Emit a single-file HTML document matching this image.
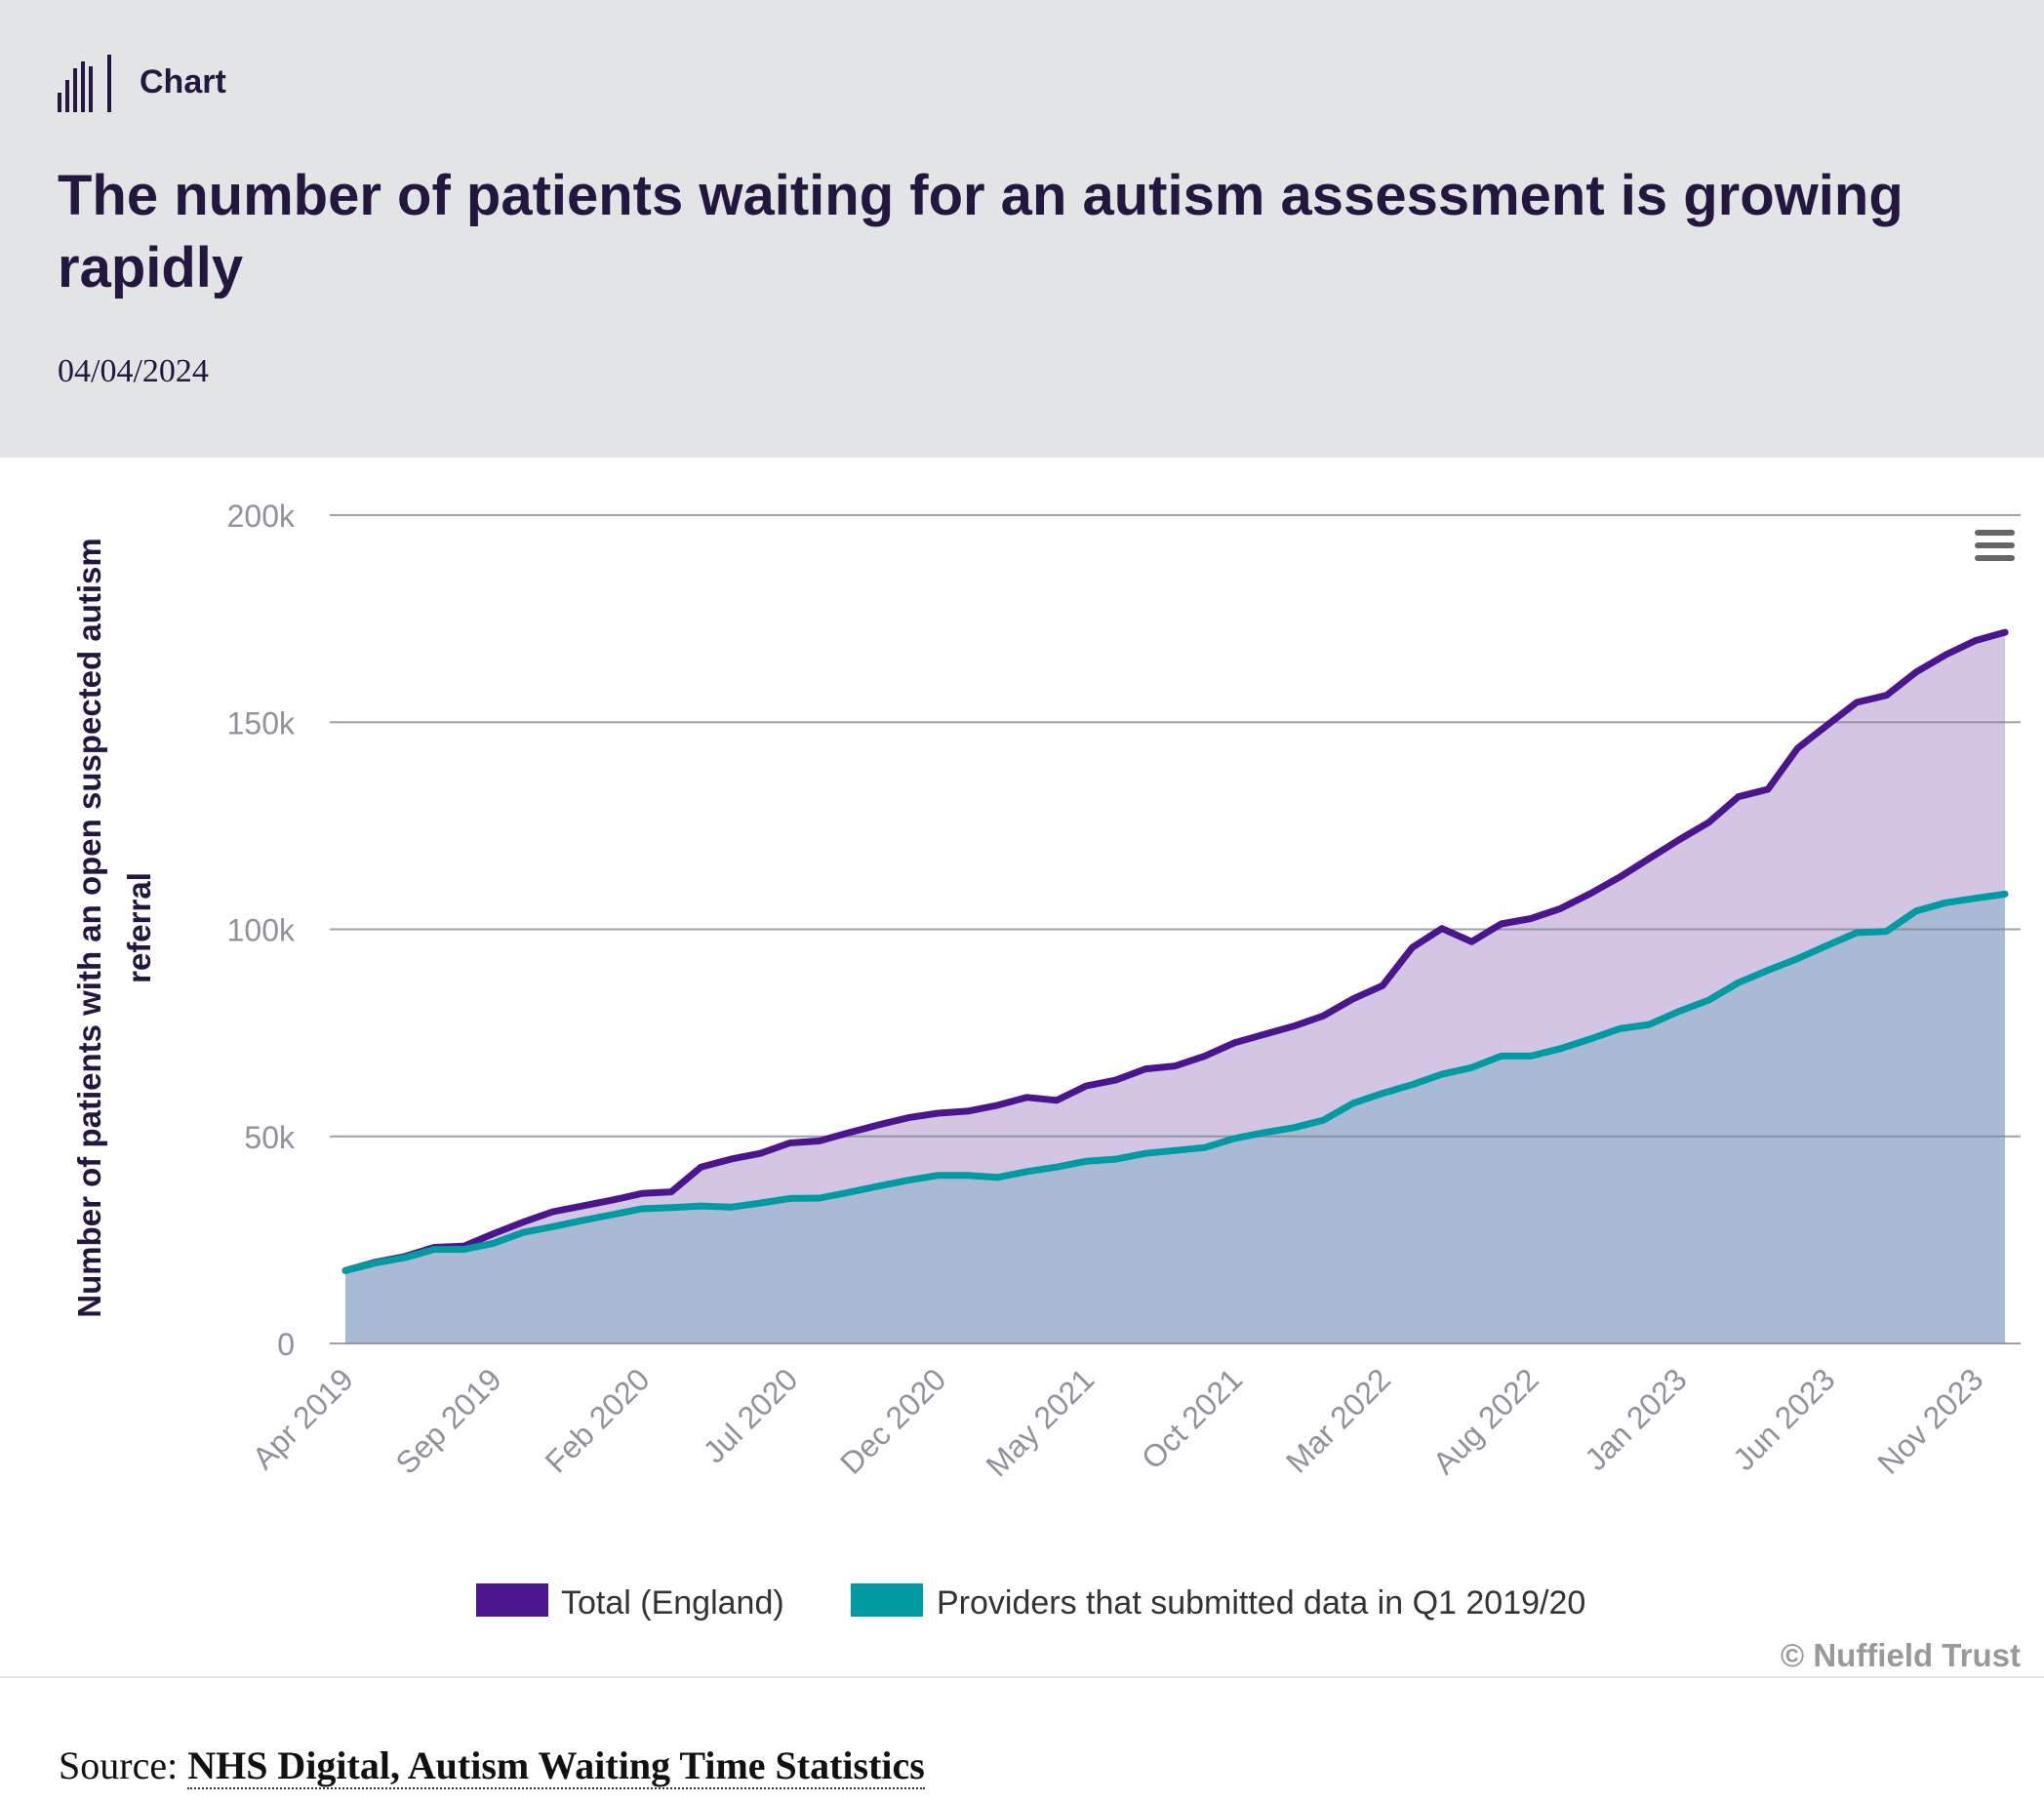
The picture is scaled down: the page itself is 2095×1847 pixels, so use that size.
<!DOCTYPE html>
<html><head><meta charset="utf-8">
<style>
html,body{margin:0;padding:0;width:2095px;height:1847px;background:#fff;overflow:hidden;font-family:"Liberation Sans",sans-serif}
#header{position:absolute;left:0;top:0;width:2095px;height:469px;background:#e3e4e6}
#chart-label{position:absolute;left:143px;top:65px;font-size:34px;font-weight:bold;color:#24173f}
#title{position:absolute;left:59px;top:164px;width:2020px;font-size:58px;font-weight:bold;color:#24173f;line-height:74px}
#date{position:absolute;left:59px;top:362px;font-family:"Liberation Serif",serif;font-size:34px;color:#24173f}
#sep{position:absolute;left:0;top:1718px;width:2095px;height:2px;background:#e2e2e2}
#source{position:absolute;left:60px;top:1786px;font-family:"Liberation Serif",serif;font-size:40px;color:#111}
#source b{border-bottom:2px dotted #333}
svg{position:absolute;left:0;top:0}
</style></head><body>
<div id="header"></div>
<svg width="2095" height="1847">
  <g fill="#24173f">
    <rect x="59" y="95" width="4" height="20"/><rect x="67" y="82" width="4" height="33"/><rect x="75" y="70" width="4" height="45"/><rect x="83" y="63" width="4" height="52"/><rect x="91" y="68" width="4" height="47"/><rect x="110" y="56" width="4" height="59"/>
  </g>
  <g id="plot"></g>
  <g fill="#666">
    <rect x="2024" y="543" width="41" height="6" rx="3"/><rect x="2024" y="556" width="41" height="6" rx="3"/><rect x="2024" y="569" width="41" height="6" rx="3"/>
  </g>
  <g font-size="33" font-weight="bold" fill="#24173f" text-anchor="middle">
    <text transform="translate(103,951) rotate(-90)">Number of patients with an open suspected autism</text>
    <text transform="translate(154,951) rotate(-90)">referral</text>
  </g>
  <g font-size="34" fill="#333">
    <rect x="488" y="1623" width="74" height="34" fill="#4b168c"/>
    <text x="575" y="1654">Total (England)</text>
    <rect x="872" y="1623" width="74" height="34" fill="#009aa3"/>
    <text x="960" y="1654">Providers that submitted data in Q1 2019/20</text>
  </g>
  <text x="2071" y="1708" text-anchor="end" font-size="33" font-weight="bold" fill="#999">© Nuffield Trust</text>
</svg>
<div id="chart-label">Chart</div>
<div id="title">The number of patients waiting for an autism assessment is growing rapidly</div>
<div id="date">04/04/2024</div>
<div id="sep"></div>
<div id="source">Source: <b>NHS Digital, Autism Waiting Time Statistics</b></div>
<script>
const months=["Apr 2019","Sep 2019","Feb 2020","Jul 2020","Dec 2020","May 2021","Oct 2021","Mar 2022","Aug 2022","Jan 2023","Jun 2023","Nov 2023"];
const yTicks=[0,50000,100000,150000,200000];
const yTickLabels=["0","50k","100k","150k","200k"];
const total=[17.6,19.6,21,23.2,23.5,26.5,29.3,31.8,33.2,34.6,36.2,36.6,42.6,44.5,45.9,48.4,48.9,50.9,52.8,54.5,55.6,56.1,57.5,59.4,58.7,62.2,63.6,66.3,67,69.4,72.6,74.6,76.6,79.1,83.2,86.4,95.6,100.2,97,101.3,102.6,105,108.6,112.6,117.1,121.6,125.8,132,133.8,143.7,149.3,154.8,156.5,162.1,166.3,169.7,171.7];
const providers=[17.6,19.4,20.7,22.7,22.7,24.2,26.8,28.2,29.7,31.1,32.5,32.8,33.2,32.9,33.9,35,35.1,36.5,38,39.4,40.6,40.6,40.1,41.5,42.6,44,44.5,45.9,46.6,47.3,49.5,50.9,52.1,53.9,58,60.4,62.5,65,66.6,69.4,69.4,71.2,73.5,76,77,80.2,82.9,87.1,90.1,92.9,96.1,99.2,99.5,104.4,106.4,107.5,108.5];
const NS="http://www.w3.org/2000/svg";
const x0=354,x1=2055,yb=1377,yt=528;
const n=total.length;
function xs(i){return x0+(x1-x0)*i/(n-1);}
function ys(v){return yb-(yb-yt)*v/200000;}
const g=document.getElementById('plot');
function mk(t,a){const e=document.createElementNS(NS,t);for(const k in a)e.setAttribute(k,a[k]);g.appendChild(e);return e;}
function pts(arr){return arr.map((v,i)=>xs(i).toFixed(1)+","+ys(v*1000).toFixed(1)).join(" ");}
let e;
e=mk('polygon',{points:pts(total)+" "+xs(n-1)+","+yb+" "+x0+","+yb,fill:"#d3c5e3"});


e=mk('polygon',{points:pts(providers)+" "+xs(n-1)+","+yb+" "+x0+","+yb,fill:"#a9bbd4"});


yTicks.forEach((t,k)=>{
  const l=mk('line',{x1:338,x2:2071,y1:ys(t),y2:ys(t),stroke:"#7d8291","stroke-opacity":"0.75","stroke-width":2});
  
  
  const tx=mk('text',{x:302,y:ys(t)+12,"text-anchor":"end","font-size":32,fill:"#8f929b"});
  tx.textContent=yTickLabels[k];
  
  
});
e=mk('polyline',{points:pts(total),fill:"none",stroke:"#4b168c","stroke-width":7,"stroke-linejoin":"round","stroke-linecap":"round"});


e=mk('polyline',{points:pts(providers),fill:"none",stroke:"#009aa3","stroke-width":7,"stroke-linejoin":"round","stroke-linecap":"round"});


months.forEach((m,k)=>{
  const xx=xs(k*5)+10, yy=1416;
  const tx=mk('text',{transform:`translate(${xx},${yy}) rotate(-45)`,"text-anchor":"end","font-size":32,fill:"#8f929b"});
  tx.textContent=m;
  
  
});
</script>
</body></html>
